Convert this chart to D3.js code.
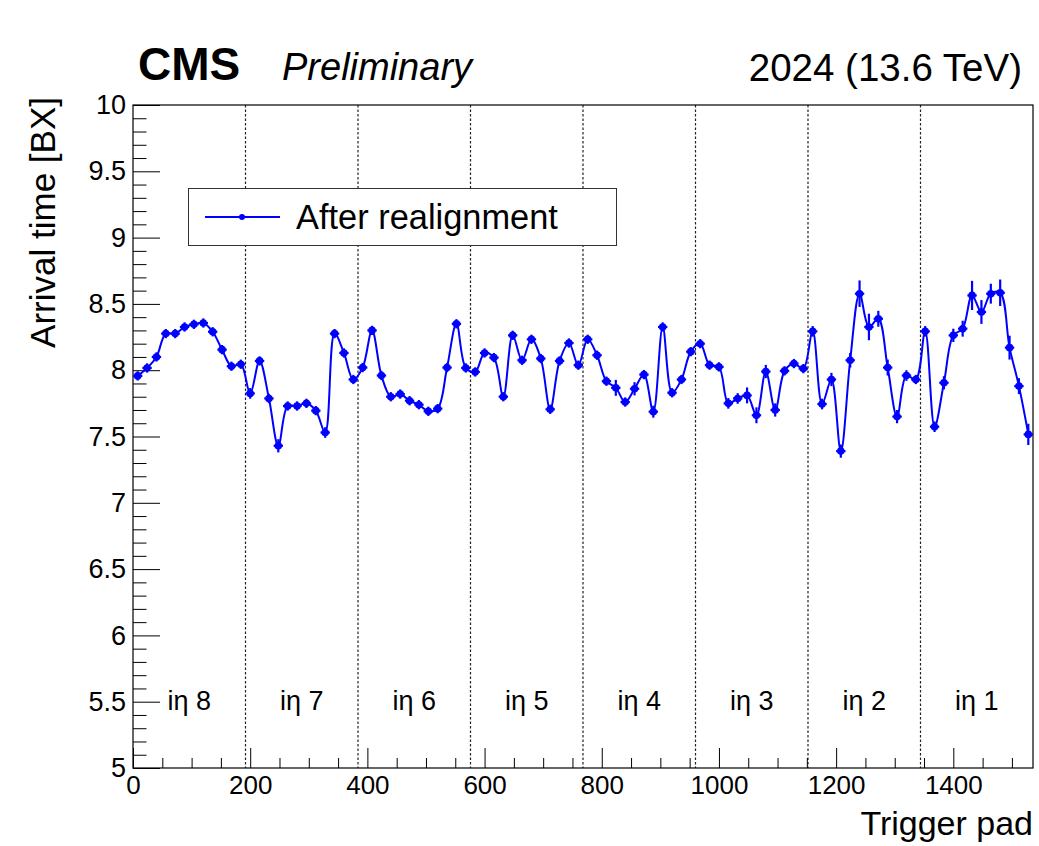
<!DOCTYPE html>
<html>
<head>
<meta charset="utf-8">
<script src="https://cdn.jsdelivr.net/npm/d3@7"></script>
<style>
  body { margin: 0; background: #fff; }
  svg { display: block; }
  text { font-family: "Liberation Sans", Arial, Helvetica, sans-serif; fill: #000; }
</style>
</head>
<body>
<svg id="chart" width="1039" height="846"></svg>
<script>
// Trigger pads are grouped in bins of 16; 8 iη partitions of 192 pads each.
const padBinWidth = 16;
const padsPerEta = 192;
const etaLabels = ["iη 8", "iη 7", "iη 6", "iη 5", "iη 4", "iη 3", "iη 2", "iη 1"];

// Mean arrival time per 16-pad bin [BX]
const arrivalTime = [
  // iη 8
  7.957, 8.017, 8.100, 8.276, 8.276, 8.326, 8.346, 8.356, 8.290, 8.155, 8.030, 8.045,
  // iη 7
  7.825, 8.070, 7.787, 7.430, 7.730, 7.730, 7.750, 7.695, 7.530, 8.276, 8.130, 7.930,
  // iη 6
  8.020, 8.300, 7.960, 7.800, 7.820, 7.770, 7.740, 7.690, 7.710, 8.020, 8.350, 8.017,
  // iη 5
  7.987, 8.130, 8.095, 7.800, 8.263, 8.075, 8.233, 8.088, 7.705, 8.070, 8.205, 8.038,
  // iη 4
  8.233, 8.113, 7.917, 7.867, 7.760, 7.860, 7.967, 7.687, 8.326, 7.830, 7.930, 8.140,
  // iη 3
  8.200, 8.038, 8.025, 7.750, 7.787, 7.810, 7.660, 7.990, 7.700, 7.995, 8.050, 8.012,
  // iη 2
  8.293, 7.745, 7.930, 7.390, 8.075, 8.577, 8.326, 8.388, 8.020, 7.650, 7.960, 7.930,
  // iη 1
  8.293, 7.574, 7.905, 8.263, 8.313, 8.564, 8.439, 8.577, 8.584, 8.170, 7.880, 7.516
];

// Uncertainty on the mean arrival time [BX]
const arrivalError = [
  0.035, 0.035, 0.035, 0.035, 0.035, 0.035, 0.035, 0.035, 0.035, 0.035, 0.035, 0.035,
  0.040, 0.035, 0.035, 0.050, 0.035, 0.035, 0.035, 0.035, 0.040, 0.035, 0.035, 0.035,
  0.035, 0.035, 0.035, 0.035, 0.035, 0.035, 0.035, 0.035, 0.035, 0.035, 0.035, 0.035,
  0.035, 0.035, 0.035, 0.035, 0.035, 0.035, 0.035, 0.035, 0.035, 0.035, 0.035, 0.035,
  0.035, 0.035, 0.035, 0.060, 0.035, 0.050, 0.035, 0.045, 0.035, 0.035, 0.035, 0.035,
  0.035, 0.035, 0.035, 0.040, 0.040, 0.060, 0.060, 0.050, 0.050, 0.035, 0.035, 0.035,
  0.040, 0.040, 0.050, 0.050, 0.055, 0.100, 0.100, 0.060, 0.060, 0.050, 0.040, 0.035,
  0.040, 0.040, 0.050, 0.050, 0.060, 0.110, 0.090, 0.075, 0.100, 0.090, 0.060, 0.080
];

const xMajorTicks = [0, 200, 400, 600, 800, 1000, 1200, 1400];
const yMajorTicks = [5, 5.5, 6, 6.5, 7, 7.5, 8, 8.5, 9, 9.5, 10];

const points = arrivalTime.map((t, i) => ({
  pad: padBinWidth * i + padBinWidth / 2,
  t: t,
  err: arrivalError[i]
}));

const svg = d3.select("#chart");
svg.append("rect").attr("width", 1039).attr("height", 846).attr("fill", "#fff");

const plot = { left: 133, right: 1033, top: 105, bottom: 768 };
const x = d3.scaleLinear().domain([0, 1536]).range([plot.left, plot.right]);
const y = d3.scaleLinear().domain([5, 10]).range([plot.bottom, plot.top]);
const blue = "#0000ff";

// Partition boundaries between iη regions
const boundaries = d3.range(1, etaLabels.length).map(k => k * padsPerEta);
svg.append("g").selectAll("line").data(boundaries).join("line")
  .attr("x1", d => x(d)).attr("x2", d => x(d))
  .attr("y1", plot.top).attr("y2", plot.bottom)
  .attr("stroke", "#222").attr("stroke-width", 1.2)
  .attr("stroke-dasharray", "2.5,2");

// Region labels
svg.append("g").selectAll("text").data(etaLabels).join("text")
  .attr("x", (d, i) => x(i * padsPerEta + padsPerEta / 2))
  .attr("y", 710)
  .attr("text-anchor", "middle")
  .attr("font-size", 27)
  .text(d => d);

// Axes: ticks point inward, as in the usual HEP style
const xAxis = d3.axisBottom(x).tickValues(xMajorTicks).tickSize(-20).tickPadding(8)
  .tickFormat(d3.format("d"));
const xMinor = d3.axisBottom(x).tickValues(d3.range(50, 1536, 50).filter(v => v % 200 !== 0))
  .tickSize(-10).tickFormat("");
const yAxis = d3.axisLeft(y).tickValues(yMajorTicks).tickSize(-27).tickPadding(7)
  .tickFormat(d => String(d));
const yMinor = d3.axisLeft(y).tickValues(d3.range(5.1, 10, 0.1).map(v => +v.toFixed(1)).filter(v => Math.abs(v * 2 - Math.round(v * 2)) > 1e-6))
  .tickSize(-13.5).tickFormat("");

function styleAxis(g, size) {
  g.select(".domain").remove();
  g.selectAll(".tick line").attr("stroke", "#000").attr("stroke-width", 1);
  g.selectAll(".tick text").attr("font-size", size).attr("fill", "#000")
    .attr("font-family", "'Liberation Sans', Arial, sans-serif");
}
svg.append("g").attr("transform", `translate(0,${plot.bottom})`).call(xMinor).call(styleAxis, 26);
svg.append("g").attr("transform", `translate(0,${plot.bottom})`).call(xAxis).call(styleAxis, 26);
svg.append("g").attr("transform", `translate(${plot.left},0)`).call(yMinor).call(styleAxis, 27);
svg.append("g").attr("transform", `translate(${plot.left},0)`).call(yAxis).call(styleAxis, 27);

// Frame
svg.append("rect")
  .attr("x", plot.left).attr("y", plot.top)
  .attr("width", plot.right - plot.left).attr("height", plot.bottom - plot.top)
  .attr("fill", "none").attr("stroke", "#000").attr("stroke-width", 1.2);

// Smooth curve through the bin means
const line = d3.line()
  .x(d => x(d.pad)).y(d => y(d.t))
  .curve(d3.curveCatmullRom.alpha(0.5));
svg.append("path").datum(points)
  .attr("d", line)
  .attr("fill", "none").attr("stroke", blue).attr("stroke-width", 2);

// Markers with horizontal (bin width) and vertical (uncertainty) error bars
const marks = svg.append("g").selectAll("g").data(points).join("g");
marks.append("line")
  .attr("x1", d => x(d.pad - padBinWidth / 2)).attr("x2", d => x(d.pad + padBinWidth / 2))
  .attr("y1", d => y(d.t)).attr("y2", d => y(d.t))
  .attr("stroke", blue).attr("stroke-width", 2.2);
marks.append("line")
  .attr("x1", d => x(d.pad)).attr("x2", d => x(d.pad))
  .attr("y1", d => y(d.t - d.err)).attr("y2", d => y(d.t + d.err))
  .attr("stroke", blue).attr("stroke-width", 2.2);
marks.append("circle")
  .attr("cx", d => x(d.pad)).attr("cy", d => y(d.t)).attr("r", 3.8)
  .attr("fill", blue);

// Legend
const legend = svg.append("g");
legend.append("rect")
  .attr("x", 188.5).attr("y", 188.5).attr("width", 428).attr("height", 57)
  .attr("fill", "#fff").attr("stroke", "#333").attr("stroke-width", 1);
legend.append("line")
  .attr("x1", 205).attr("x2", 280).attr("y1", 217).attr("y2", 217)
  .attr("stroke", blue).attr("stroke-width", 2);
legend.append("circle").attr("cx", 242).attr("cy", 217).attr("r", 3).attr("fill", blue);
legend.append("text").attr("x", 296).attr("y", 229)
  .attr("font-size", 34.4).text("After realignment");

// Titles
svg.append("text").attr("x", 1033).attr("y", 835)
  .attr("text-anchor", "end").attr("font-size", 34).text("Trigger pad");
svg.append("text")
  .attr("transform", "translate(55,97) rotate(-90)")
  .attr("text-anchor", "end").attr("font-size", 35).text("Arrival time [BX]");

svg.append("text").attr("x", 138).attr("y", 80)
  .attr("font-size", 46).attr("font-weight", "bold").text("CMS");
svg.append("text").attr("x", 282).attr("y", 80)
  .attr("font-size", 38).attr("font-style", "italic").text("Preliminary");
svg.append("text").attr("x", 1022).attr("y", 81)
  .attr("text-anchor", "end").attr("font-size", 38.5).text("2024 (13.6 TeV)");
</script>
</body>
</html>
